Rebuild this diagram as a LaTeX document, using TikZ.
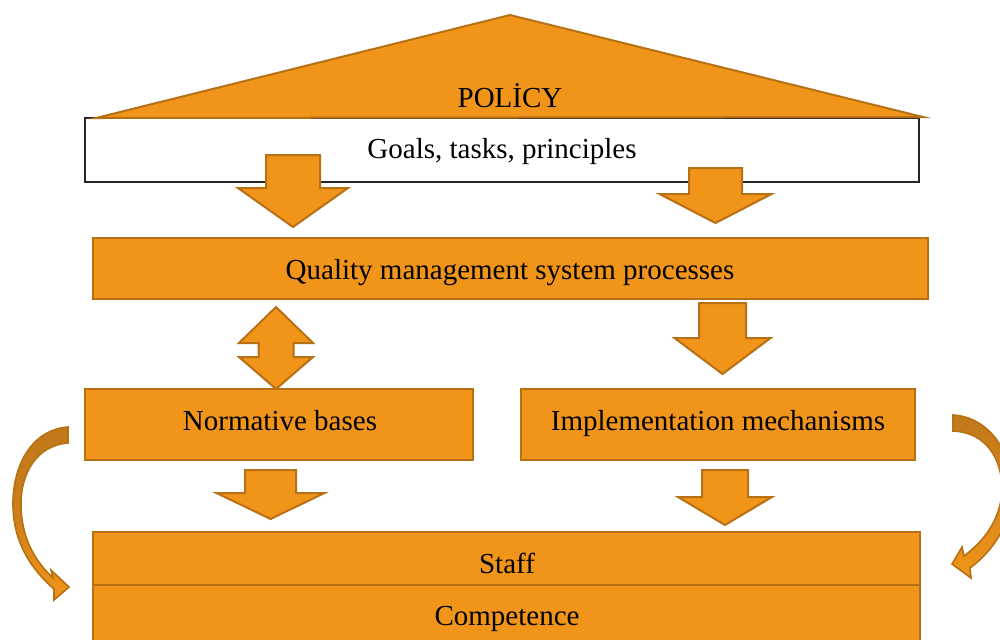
\documentclass[tikz,border=0pt]{standalone}
\usepackage{fontspec}
\setmainfont{Liberation Serif}
\definecolor{ofill}{RGB}{240,149,25}
\definecolor{ostroke}{RGB}{184,112,20}
\definecolor{odark}{RGB}{192,120,26}
\newcommand\blkdown[6]{%
  \draw[oarrow] ({#1-#3},#2) -- ({#1+#3},#2) -- ({#1+#3},#5) -- ({#1+#4},#5)
    -- (#1,#6) -- ({#1-#4},#5) -- ({#1-#3},#5) -- cycle;}
\begin{document}
\begin{tikzpicture}[x=0.5pt,y=-0.5pt,
  oarrow/.style={fill=ofill,draw=ostroke,line width=1pt,line join=miter},
  obox/.style={rectangle,fill=ofill,draw=ostroke,line width=1.1pt,inner sep=0pt},
  wbox/.style={rectangle,fill=white,draw=black!85,line width=0.7pt,inner sep=0pt},
  txt/.style={font=\fontsize{14.5}{17}\selectfont,inner sep=0pt,text=black}]
\useasboundingbox (0,0) rectangle (1000,639);
\begin{scope}
\clip (0,0) rectangle (1000,639);
% goals box and roof
\node[wbox,minimum width=417pt,minimum height=32pt] (goals) at (502,150) {};
\draw[oarrow] (96,118) -- (510,15) -- (923,117) -- cycle;
\node[txt] (policy) at (510,96) {POLİCY};
\node[txt] (goalst) at (502,152) {Goals, tasks, principles};
% QMS box
\node[obox,minimum width=417.5pt,minimum height=30.5pt] (qms) at (510.5,268.5) {};
\node[txt] (qmst) at (510,273) {Quality management system processes};
% normative / implementation
\node[obox,minimum width=194pt,minimum height=35.5pt] (norm) at (279,424.5) {};
\node[txt] (normt) at (280,421) {Normative bases};
\node[obox,minimum width=197pt,minimum height=35.5pt] (impl) at (718,424.5) {};
\node[txt] (implt) at (718,423.5) {Implementation mechanisms};
% staff / competence
\node[obox,minimum width=413.5pt,minimum height=26.5pt] (staff) at (506.5,558.5) {};
\node[obox,minimum width=413.5pt,minimum height=32.5pt] (comp) at (506.5,617.5) {};
\node[txt] (stafft) at (507,563) {Staff};
\node[txt] (compt) at (507,619) {Competence};
% block arrows
\blkdown{293}{155}{27}{55}{188}{227}
\blkdown{715.5}{168}{26.5}{56}{194}{223}
\blkdown{722.5}{303}{23.5}{48}{338}{374}
\blkdown{270.5}{470}{25.5}{54}{493}{519}
\blkdown{725}{470}{23}{47}{497}{525}
% double arrow
\draw[oarrow] (276,307) -- (313,343) -- (293.5,343) -- (293.5,357) -- (313,357)
  -- (276,389) -- (239,357) -- (258.5,357) -- (258.5,343) -- (239,343) -- cycle;
% curved arrows
\path[draw=ostroke,line width=0.8pt,top color=odark,bottom color=ofill,middle color=odark!75!ofill]
  (68,427) .. controls (30,430) and (12,468) .. (13,507)
  .. controls (14,542) and (30,568) .. (54,589) -- (54,600) -- (69,587) -- (51,570)
  -- (53,578) .. controls (36,562) and (22,540) .. (21,507)
  .. controls (20,472) and (38,445) .. (68,443) -- cycle;
\path[draw=ostroke,line width=0.8pt,top color=odark,bottom color=ofill,middle color=odark!50!ofill]
  (953,415) .. controls (990,417) and (1014,455) .. (1012,492)
  .. controls (1010,525) and (994,550) .. (970,568) -- (971,578) -- (952,564) -- (962,547)
  -- (964,556) .. controls (984,541) and (1000,520) .. (1002,492)
  .. controls (1003,458) and (985,432) .. (953,431) -- cycle;
\end{scope}
\end{tikzpicture}
\end{document}
